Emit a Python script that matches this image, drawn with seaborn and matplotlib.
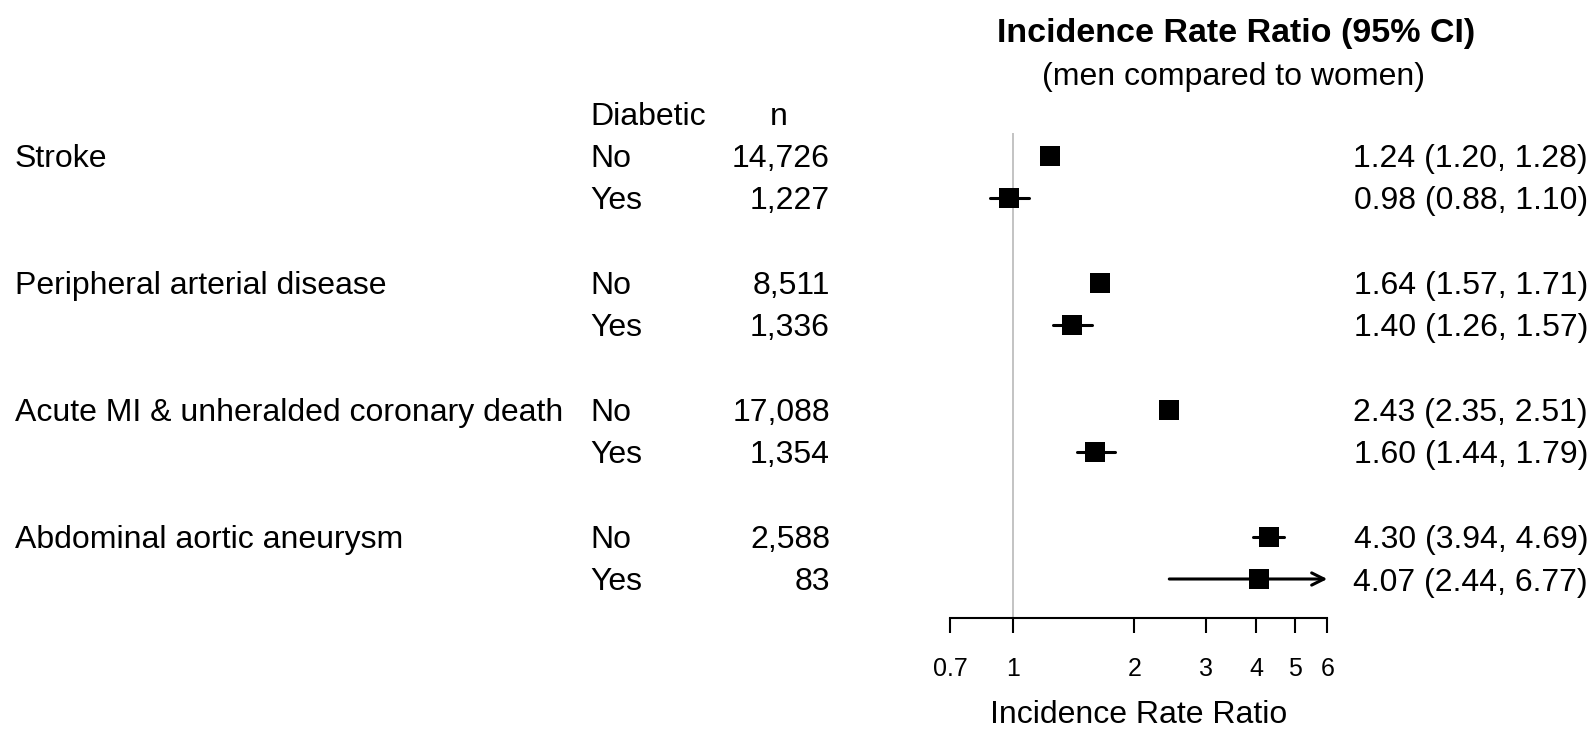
import matplotlib
matplotlib.use("Agg")
import matplotlib.pyplot as plt
import matplotlib.transforms as mtransforms
from matplotlib.ticker import NullLocator
import seaborn as sns

# data
outcomes = ["Stroke", "Peripheral arterial disease",
            "Acute MI & unheralded coronary death", "Abdominal aortic aneurysm"]
diabetic = ["No", "Yes"] * 4
n_counts = ["14,726", "1,227", "8,511", "1,336", "17,088", "1,354", "2,588", "83"]
irr = [1.24, 0.98, 1.64, 1.40, 2.43, 1.60, 4.30, 4.07]
ci_low = [1.20, 0.88, 1.57, 1.26, 2.35, 1.44, 3.94, 2.44]
ci_high = [1.28, 1.10, 1.71, 1.57, 2.51, 1.79, 4.69, 6.77]
x_ticks = [0.7, 1, 2, 3, 4, 5, 6]
x_min, x_max = 0.7, 6

# row positions: two rows per outcome, one blank row between groups
rows = [g * 3 + k for g in range(4) for k in range(2)]

sns.set_style("white")
plt.rcParams["font.family"] = ["Liberation Sans", "DejaVu Sans"]
plt.rcParams["text.color"] = "black"
plt.rcParams["axes.labelcolor"] = "black"
plt.rcParams["xtick.color"] = "black"

W, H = 1593, 729
fig = plt.figure(figsize=(W / 100, H / 100), dpi=100)

# forest panel placed in pixel coordinates
left_px, right_px = 950, 1327.3
top_px, bottom_px = 28.5, 618.3
ax = fig.add_axes([left_px / W, 1 - bottom_px / H,
                   (right_px - left_px) / W, (bottom_px - top_px) / H])
row0_px, row_step = 155.5, 42.35
ax.set_ylim((bottom_px - row0_px) / row_step, (top_px - row0_px) / row_step)
ax.set_xscale("log")
ax.set_xlim(x_min, x_max)

# reference line at 1
ax.vlines(1, -0.53, ax.get_ylim()[0], color="#BEBEBE", lw=1.3, zorder=1)

# confidence intervals, arrow when clipped
for y, lo, hi in zip(rows, ci_low, ci_high):
    if hi > x_max:
        ax.annotate("", xy=(x_max, y), xytext=(lo, y),
                    arrowprops=dict(arrowstyle="->", lw=2.2, color="black",
                                    mutation_scale=22, shrinkA=0, shrinkB=0),
                    annotation_clip=False)
    else:
        ax.plot([lo, hi], [y, y], color="black", lw=2.2,
                solid_capstyle="round", zorder=2)

sns.scatterplot(x=irr, y=rows, marker="s", s=15 ** 2, color="black",
                edgecolor="black", linewidth=0, ax=ax, zorder=3, clip_on=False)

ax.set_xticks(x_ticks)
ax.set_xticklabels([str(t) for t in x_ticks], fontsize=18)
ax.xaxis.set_minor_locator(NullLocator())
ax.set_yticks([])
ax.tick_params(axis="x", length=10.8, width=1.5, pad=17, color="black",
               bottom=True)
for side in ["left", "top", "right"]:
    ax.spines[side].set_visible(False)
ax.spines["bottom"].set_linewidth(1.5)
ax.spines["bottom"].set_color("black")
ax.set_xlabel("Incidence Rate Ratio", fontsize=23)
ax.xaxis.set_label_coords(0.5, -(700 - bottom_px) / (bottom_px - top_px))

# text columns: x in figure pixels, y in row units, baseline set under row centre
tr = mtransforms.blended_transform_factory(fig.transFigure, ax.transData)
tr = mtransforms.offset_copy(tr, fig=fig, y=-11.5, units="dots")
fs = 23
for g, name in enumerate(outcomes):
    ax.text(15 / W, g * 3, name, transform=tr, fontsize=fs, va="baseline", ha="left")
ax.text(590 / W, -1, "Diabetic", transform=tr, fontsize=fs, va="baseline", ha="left")
ax.text(779 / W, -1, "n", transform=tr, fontsize=fs, va="baseline", ha="center")
for y, d, n, m, lo, hi in zip(rows, diabetic, n_counts, irr, ci_low, ci_high):
    ax.text(590 / W, y, d, transform=tr, fontsize=fs, va="baseline", ha="left")
    ax.text(830 / W, y, n, transform=tr, fontsize=fs, va="baseline", ha="right")
    ax.text(1588 / W, y, f"{m:.2f} ({lo:.2f}, {hi:.2f})", transform=tr,
            fontsize=fs, va="baseline", ha="right")

fig.text(1236 / W, 1 - 42 / H, "Incidence Rate Ratio (95% CI)", fontsize=24.5,
         fontweight="bold", ha="center", va="baseline")
fig.text(1234 / W, 1 - 85 / H, "(men compared to women)", fontsize=23,
         ha="center", va="baseline")

fig.savefig("out.png", dpi=100)
